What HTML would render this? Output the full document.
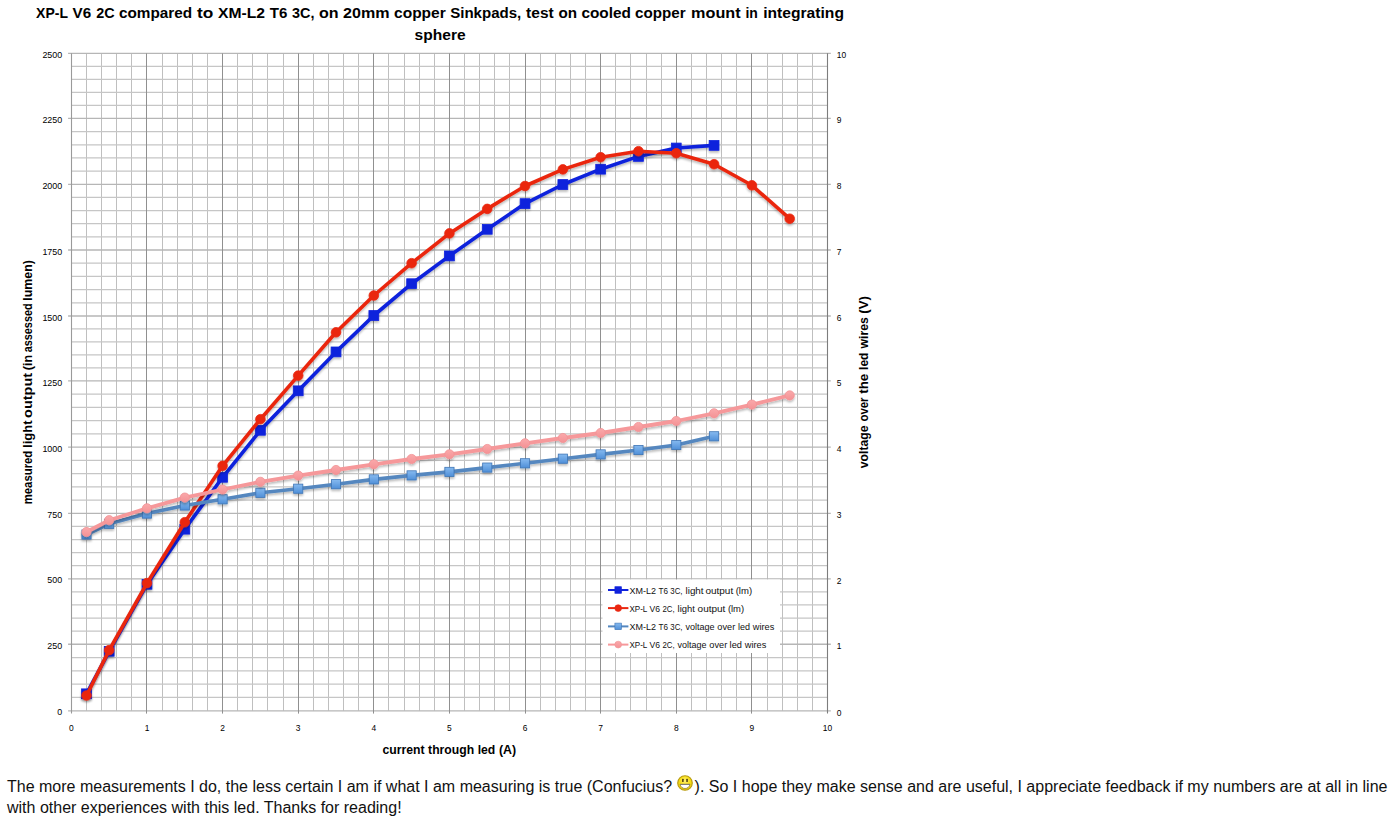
<!DOCTYPE html>
<html lang="en">
<head>
<meta charset="utf-8">
<title>XP-L V6 2C compared to XM-L2 T6 3C</title>
<style>
html,body{margin:0;padding:0;background:#fff;}
body{width:1399px;height:832px;position:relative;overflow:hidden;font-family:'Liberation Sans',sans-serif;}
#chart{position:absolute;left:0;top:0;width:1399px;height:760px;}
#txt{position:absolute;left:7px;top:775px;width:1392px;margin:0;font-size:16px;line-height:21px;color:#111;white-space:nowrap;}
#txt span.l{position:absolute;left:0;height:21px;display:block;}
#l1{top:0;}#l2{top:22px;}
</style>
</head>
<body>
<div id="chart">
<svg width="1399" height="760" viewBox="0 0 1399 760" style="position:absolute;left:0;top:0" font-family="'Liberation Sans', sans-serif">
<defs>
<filter id="sh" x="-5%" y="-5%" width="110%" height="115%"><feGaussianBlur in="SourceAlpha" stdDeviation="1.1"/><feOffset dx="0" dy="1.6" result="b"/><feComponentTransfer><feFuncA type="linear" slope="0.26"/></feComponentTransfer><feMerge><feMergeNode/><feMergeNode in="SourceGraphic"/></feMerge></filter>
<linearGradient id="gs" x1="0" y1="0" x2="0" y2="1"><stop offset="0" stop-color="#86baf0"/><stop offset="1" stop-color="#4f8fd8"/></linearGradient>
<linearGradient id="gp" x1="0" y1="0" x2="0" y2="1"><stop offset="0" stop-color="#faa9ab"/><stop offset="1" stop-color="#f49295"/></linearGradient>
</defs>
<path d="M86.5 53.4 V710.8 M101.5 53.4 V710.8 M116.5 53.4 V710.8 M131.5 53.4 V710.8 M162.5 53.4 V710.8 M177.5 53.4 V710.8 M192.5 53.4 V710.8 M207.5 53.4 V710.8 M237.5 53.4 V710.8 M252.5 53.4 V710.8 M267.5 53.4 V710.8 M283.5 53.4 V710.8 M313.5 53.4 V710.8 M328.5 53.4 V710.8 M343.5 53.4 V710.8 M358.5 53.4 V710.8 M388.5 53.4 V710.8 M404.5 53.4 V710.8 M419.5 53.4 V710.8 M434.5 53.4 V710.8 M464.5 53.4 V710.8 M479.5 53.4 V710.8 M494.5 53.4 V710.8 M509.5 53.4 V710.8 M540.5 53.4 V710.8 M555.5 53.4 V710.8 M570.5 53.4 V710.8 M585.5 53.4 V710.8 M615.5 53.4 V710.8 M630.5 53.4 V710.8 M646.5 53.4 V710.8 M661.5 53.4 V710.8 M691.5 53.4 V710.8 M706.5 53.4 V710.8 M721.5 53.4 V710.8 M736.5 53.4 V710.8 M767.5 53.4 V710.8 M782.5 53.4 V710.8 M797.5 53.4 V710.8 M812.5 53.4 V710.8" stroke="#bfbfbf" stroke-width="1" fill="none"/>
<path d="M71.38 66.4 H827.5 M71.38 79.4 H827.5 M71.38 92.4 H827.5 M71.38 105.4 H827.5 M71.38 131.58 H827.5 M71.38 144.76 H827.5 M71.38 157.94 H827.5 M71.38 171.12 H827.5 M71.38 197.44 H827.5 M71.38 210.58 H827.5 M71.38 223.72 H827.5 M71.38 236.86 H827.5 M71.38 263.2 H827.5 M71.38 276.4 H827.5 M71.38 289.6 H827.5 M71.38 302.8 H827.5 M71.38 328.98 H827.5 M71.38 341.96 H827.5 M71.38 354.94 H827.5 M71.38 367.92 H827.5 M71.38 394.14 H827.5 M71.38 407.38 H827.5 M71.38 420.62 H827.5 M71.38 433.86 H827.5 M71.38 460.34 H827.5 M71.38 473.58 H827.5 M71.38 486.82 H827.5 M71.38 500.06 H827.5 M71.38 526.4 H827.5 M71.38 539.5 H827.5 M71.38 552.6 H827.5 M71.38 565.7 H827.5 M71.38 591.88 H827.5 M71.38 604.96 H827.5 M71.38 618.04 H827.5 M71.38 631.12 H827.5 M71.38 657.52 H827.5 M71.38 670.84 H827.5 M71.38 684.16 H827.5 M71.38 697.48 H827.5" stroke="#c6c6c6" stroke-width="1.25" fill="none"/>
<path d="M68.08 53.4 H830.8 M68.08 118.4 H830.8 M68.08 184.3 H830.8 M68.08 250 H830.8 M68.08 316 H830.8 M68.08 380.9 H830.8 M68.08 447.1 H830.8 M68.08 513.3 H830.8 M68.08 578.8 H830.8 M68.08 644.2 H830.8 M68.08 710.8 H830.8" stroke="#b6b6b6" stroke-width="1.35" fill="none"/>
<path d="M146.5 53.4 V713.6 M222.5 53.4 V713.6 M298.5 53.4 V713.6 M373.5 53.4 V713.6 M449.5 53.4 V713.6 M525.5 53.4 V713.6 M600.5 53.4 V713.6 M676.5 53.4 V713.6 M751.5 53.4 V713.6" stroke="#909090" stroke-width="1" fill="none"/>
<path d="M71.5 53.3 V713.6" stroke="#9a9a9a" stroke-width="1.1" fill="none"/>
<path d="M827.5 53.3 V713.6" stroke="#7d7d7d" stroke-width="1.1" fill="none"/>
<g filter="url(#sh)">
<polyline points="86.5,693.8 109.19,651.3 146.99,584.3 184.8,529.2 222.6,477.3 260.41,430.3 298.22,390.8 336.02,351.9 373.83,315.5 411.63,283.7 449.44,255.9 487.25,229.3 525.05,203.6 562.86,184.5 600.66,169.2 638.47,156.4 676.28,148 714.08,145.4" fill="none" stroke="#0f22dc" stroke-width="3.6" stroke-linejoin="round" stroke-linecap="round"/>
<rect x="81.6" y="688.9" width="9.8" height="9.8" fill="#0f22dc" stroke="#0f22dc" stroke-width="0.8"/>
<rect x="104.29" y="646.4" width="9.8" height="9.8" fill="#0f22dc" stroke="#0f22dc" stroke-width="0.8"/>
<rect x="142.09" y="579.4" width="9.8" height="9.8" fill="#0f22dc" stroke="#0f22dc" stroke-width="0.8"/>
<rect x="179.9" y="524.3" width="9.8" height="9.8" fill="#0f22dc" stroke="#0f22dc" stroke-width="0.8"/>
<rect x="217.7" y="472.4" width="9.8" height="9.8" fill="#0f22dc" stroke="#0f22dc" stroke-width="0.8"/>
<rect x="255.51" y="425.4" width="9.8" height="9.8" fill="#0f22dc" stroke="#0f22dc" stroke-width="0.8"/>
<rect x="293.32" y="385.9" width="9.8" height="9.8" fill="#0f22dc" stroke="#0f22dc" stroke-width="0.8"/>
<rect x="331.12" y="347" width="9.8" height="9.8" fill="#0f22dc" stroke="#0f22dc" stroke-width="0.8"/>
<rect x="368.93" y="310.6" width="9.8" height="9.8" fill="#0f22dc" stroke="#0f22dc" stroke-width="0.8"/>
<rect x="406.73" y="278.8" width="9.8" height="9.8" fill="#0f22dc" stroke="#0f22dc" stroke-width="0.8"/>
<rect x="444.54" y="251" width="9.8" height="9.8" fill="#0f22dc" stroke="#0f22dc" stroke-width="0.8"/>
<rect x="482.35" y="224.4" width="9.8" height="9.8" fill="#0f22dc" stroke="#0f22dc" stroke-width="0.8"/>
<rect x="520.15" y="198.7" width="9.8" height="9.8" fill="#0f22dc" stroke="#0f22dc" stroke-width="0.8"/>
<rect x="557.96" y="179.6" width="9.8" height="9.8" fill="#0f22dc" stroke="#0f22dc" stroke-width="0.8"/>
<rect x="595.76" y="164.3" width="9.8" height="9.8" fill="#0f22dc" stroke="#0f22dc" stroke-width="0.8"/>
<rect x="633.57" y="151.5" width="9.8" height="9.8" fill="#0f22dc" stroke="#0f22dc" stroke-width="0.8"/>
<rect x="671.38" y="143.1" width="9.8" height="9.8" fill="#0f22dc" stroke="#0f22dc" stroke-width="0.8"/>
<rect x="709.18" y="140.5" width="9.8" height="9.8" fill="#0f22dc" stroke="#0f22dc" stroke-width="0.8"/>
</g>
<g filter="url(#sh)">
<polyline points="86.5,695.5 109.19,650.1 146.99,583.1 184.8,522.2 222.6,465.8 260.41,419.2 298.22,375.6 336.02,332.3 373.83,295.5 411.63,263.2 449.44,233.4 487.25,208.9 525.05,186 562.86,169.4 600.66,157.2 638.47,151.2 676.28,153.2 714.08,164.2 751.89,185.3 789.69,218.7" fill="none" stroke="#ea2710" stroke-width="3.6" stroke-linejoin="round" stroke-linecap="round"/>
<circle cx="86.5" cy="695.5" r="4.8" fill="#ea2710" stroke="#ea2710" stroke-width="0.8"/>
<circle cx="109.19" cy="650.1" r="4.8" fill="#ea2710" stroke="#ea2710" stroke-width="0.8"/>
<circle cx="146.99" cy="583.1" r="4.8" fill="#ea2710" stroke="#ea2710" stroke-width="0.8"/>
<circle cx="184.8" cy="522.2" r="4.8" fill="#ea2710" stroke="#ea2710" stroke-width="0.8"/>
<circle cx="222.6" cy="465.8" r="4.8" fill="#ea2710" stroke="#ea2710" stroke-width="0.8"/>
<circle cx="260.41" cy="419.2" r="4.8" fill="#ea2710" stroke="#ea2710" stroke-width="0.8"/>
<circle cx="298.22" cy="375.6" r="4.8" fill="#ea2710" stroke="#ea2710" stroke-width="0.8"/>
<circle cx="336.02" cy="332.3" r="4.8" fill="#ea2710" stroke="#ea2710" stroke-width="0.8"/>
<circle cx="373.83" cy="295.5" r="4.8" fill="#ea2710" stroke="#ea2710" stroke-width="0.8"/>
<circle cx="411.63" cy="263.2" r="4.8" fill="#ea2710" stroke="#ea2710" stroke-width="0.8"/>
<circle cx="449.44" cy="233.4" r="4.8" fill="#ea2710" stroke="#ea2710" stroke-width="0.8"/>
<circle cx="487.25" cy="208.9" r="4.8" fill="#ea2710" stroke="#ea2710" stroke-width="0.8"/>
<circle cx="525.05" cy="186" r="4.8" fill="#ea2710" stroke="#ea2710" stroke-width="0.8"/>
<circle cx="562.86" cy="169.4" r="4.8" fill="#ea2710" stroke="#ea2710" stroke-width="0.8"/>
<circle cx="600.66" cy="157.2" r="4.8" fill="#ea2710" stroke="#ea2710" stroke-width="0.8"/>
<circle cx="638.47" cy="151.2" r="4.8" fill="#ea2710" stroke="#ea2710" stroke-width="0.8"/>
<circle cx="676.28" cy="153.2" r="4.8" fill="#ea2710" stroke="#ea2710" stroke-width="0.8"/>
<circle cx="714.08" cy="164.2" r="4.8" fill="#ea2710" stroke="#ea2710" stroke-width="0.8"/>
<circle cx="751.89" cy="185.3" r="4.8" fill="#ea2710" stroke="#ea2710" stroke-width="0.8"/>
<circle cx="789.69" cy="218.7" r="4.8" fill="#ea2710" stroke="#ea2710" stroke-width="0.8"/>
</g>
<g filter="url(#sh)">
<polyline points="86.5,534.5 109.19,523.8 146.99,513.6 184.8,505.5 222.6,499.3 260.41,492.8 298.22,488.7 336.02,484.2 373.83,479.4 411.63,475.4 449.44,471.9 487.25,467.6 525.05,463.3 562.86,458.7 600.66,454.4 638.47,450 676.28,445 714.08,436.3" fill="none" stroke="#5487bf" stroke-width="3.6" stroke-linejoin="round" stroke-linecap="round"/>
<rect x="81.9" y="529.9" width="9.2" height="9.2" fill="url(#gs)" stroke="#3f75b5" stroke-width="0.8"/>
<rect x="104.59" y="519.2" width="9.2" height="9.2" fill="url(#gs)" stroke="#3f75b5" stroke-width="0.8"/>
<rect x="142.39" y="509" width="9.2" height="9.2" fill="url(#gs)" stroke="#3f75b5" stroke-width="0.8"/>
<rect x="180.2" y="500.9" width="9.2" height="9.2" fill="url(#gs)" stroke="#3f75b5" stroke-width="0.8"/>
<rect x="218" y="494.7" width="9.2" height="9.2" fill="url(#gs)" stroke="#3f75b5" stroke-width="0.8"/>
<rect x="255.81" y="488.2" width="9.2" height="9.2" fill="url(#gs)" stroke="#3f75b5" stroke-width="0.8"/>
<rect x="293.62" y="484.1" width="9.2" height="9.2" fill="url(#gs)" stroke="#3f75b5" stroke-width="0.8"/>
<rect x="331.42" y="479.6" width="9.2" height="9.2" fill="url(#gs)" stroke="#3f75b5" stroke-width="0.8"/>
<rect x="369.23" y="474.8" width="9.2" height="9.2" fill="url(#gs)" stroke="#3f75b5" stroke-width="0.8"/>
<rect x="407.03" y="470.8" width="9.2" height="9.2" fill="url(#gs)" stroke="#3f75b5" stroke-width="0.8"/>
<rect x="444.84" y="467.3" width="9.2" height="9.2" fill="url(#gs)" stroke="#3f75b5" stroke-width="0.8"/>
<rect x="482.65" y="463" width="9.2" height="9.2" fill="url(#gs)" stroke="#3f75b5" stroke-width="0.8"/>
<rect x="520.45" y="458.7" width="9.2" height="9.2" fill="url(#gs)" stroke="#3f75b5" stroke-width="0.8"/>
<rect x="558.26" y="454.1" width="9.2" height="9.2" fill="url(#gs)" stroke="#3f75b5" stroke-width="0.8"/>
<rect x="596.06" y="449.8" width="9.2" height="9.2" fill="url(#gs)" stroke="#3f75b5" stroke-width="0.8"/>
<rect x="633.87" y="445.4" width="9.2" height="9.2" fill="url(#gs)" stroke="#3f75b5" stroke-width="0.8"/>
<rect x="671.68" y="440.4" width="9.2" height="9.2" fill="url(#gs)" stroke="#3f75b5" stroke-width="0.8"/>
<rect x="709.48" y="431.7" width="9.2" height="9.2" fill="url(#gs)" stroke="#3f75b5" stroke-width="0.8"/>
</g>
<g filter="url(#sh)">
<polyline points="86.5,532 109.19,520.2 146.99,508.3 184.8,497.6 222.6,489.5 260.41,481.8 298.22,475.6 336.02,470 373.83,464.3 411.63,459 449.44,454.3 487.25,449 525.05,443.3 562.86,438 600.66,433 638.47,427 676.28,421 714.08,413.3 751.89,404.6 789.69,395.4" fill="none" stroke="#f6989a" stroke-width="3.8" stroke-linejoin="round" stroke-linecap="round"/>
<circle cx="86.5" cy="532" r="4.6" fill="url(#gp)" stroke="#f29396" stroke-width="0.8"/>
<circle cx="109.19" cy="520.2" r="4.6" fill="url(#gp)" stroke="#f29396" stroke-width="0.8"/>
<circle cx="146.99" cy="508.3" r="4.6" fill="url(#gp)" stroke="#f29396" stroke-width="0.8"/>
<circle cx="184.8" cy="497.6" r="4.6" fill="url(#gp)" stroke="#f29396" stroke-width="0.8"/>
<circle cx="222.6" cy="489.5" r="4.6" fill="url(#gp)" stroke="#f29396" stroke-width="0.8"/>
<circle cx="260.41" cy="481.8" r="4.6" fill="url(#gp)" stroke="#f29396" stroke-width="0.8"/>
<circle cx="298.22" cy="475.6" r="4.6" fill="url(#gp)" stroke="#f29396" stroke-width="0.8"/>
<circle cx="336.02" cy="470" r="4.6" fill="url(#gp)" stroke="#f29396" stroke-width="0.8"/>
<circle cx="373.83" cy="464.3" r="4.6" fill="url(#gp)" stroke="#f29396" stroke-width="0.8"/>
<circle cx="411.63" cy="459" r="4.6" fill="url(#gp)" stroke="#f29396" stroke-width="0.8"/>
<circle cx="449.44" cy="454.3" r="4.6" fill="url(#gp)" stroke="#f29396" stroke-width="0.8"/>
<circle cx="487.25" cy="449" r="4.6" fill="url(#gp)" stroke="#f29396" stroke-width="0.8"/>
<circle cx="525.05" cy="443.3" r="4.6" fill="url(#gp)" stroke="#f29396" stroke-width="0.8"/>
<circle cx="562.86" cy="438" r="4.6" fill="url(#gp)" stroke="#f29396" stroke-width="0.8"/>
<circle cx="600.66" cy="433" r="4.6" fill="url(#gp)" stroke="#f29396" stroke-width="0.8"/>
<circle cx="638.47" cy="427" r="4.6" fill="url(#gp)" stroke="#f29396" stroke-width="0.8"/>
<circle cx="676.28" cy="421" r="4.6" fill="url(#gp)" stroke="#f29396" stroke-width="0.8"/>
<circle cx="714.08" cy="413.3" r="4.6" fill="url(#gp)" stroke="#f29396" stroke-width="0.8"/>
<circle cx="751.89" cy="404.6" r="4.6" fill="url(#gp)" stroke="#f29396" stroke-width="0.8"/>
<circle cx="789.69" cy="395.4" r="4.6" fill="url(#gp)" stroke="#f29396" stroke-width="0.8"/>
</g>
<rect x="602.5" y="579.5" width="177.5" height="73.5" fill="#fff"/>
<path d="M608 590 H628.4" stroke="#0f22dc" stroke-width="2" fill="none"/>
<rect x="614.9" y="586.7" width="6.6" height="6.6" fill="#0f22dc" stroke="#0f22dc" stroke-width="0.6"/>
<text y="594" font-size="8.6" fill="#111"><tspan x="629.4" textLength="26.5" lengthAdjust="spacingAndGlyphs">XM-L2</tspan> <tspan x="658.5" textLength="9.5" lengthAdjust="spacingAndGlyphs">T6</tspan> <tspan x="670.3" textLength="12.2" lengthAdjust="spacingAndGlyphs">3C,</tspan> <tspan x="685.5" textLength="18.1" lengthAdjust="spacingAndGlyphs">light</tspan> <tspan x="705.4" textLength="27.8" lengthAdjust="spacingAndGlyphs">output</tspan> <tspan x="735.7" textLength="16.4" lengthAdjust="spacingAndGlyphs">(lm)</tspan> </text>
<path d="M608 608.1 H628.4" stroke="#ea2710" stroke-width="2" fill="none"/>
<circle cx="618.2" cy="608.1" r="3.4" fill="#ea2710" stroke="#ea2710" stroke-width="0.6"/>
<text y="612.2" font-size="8.6" fill="#111"><tspan x="629.4" textLength="17.6" lengthAdjust="spacingAndGlyphs">XP-L</tspan> <tspan x="649.5" textLength="10.5" lengthAdjust="spacingAndGlyphs">V6</tspan> <tspan x="662.4" textLength="12.2" lengthAdjust="spacingAndGlyphs">2C,</tspan> <tspan x="677.6" textLength="17.3" lengthAdjust="spacingAndGlyphs">light</tspan> <tspan x="697.6" textLength="27.8" lengthAdjust="spacingAndGlyphs">output</tspan> <tspan x="727.9" textLength="16.2" lengthAdjust="spacingAndGlyphs">(lm)</tspan> </text>
<path d="M608 626.4 H628.4" stroke="#5487bf" stroke-width="2" fill="none"/>
<rect x="614.9" y="623.1" width="6.6" height="6.6" fill="url(#gs)" stroke="#3f75b5" stroke-width="0.6"/>
<text y="630.1" font-size="8.6" fill="#111"><tspan x="629.4" textLength="26.5" lengthAdjust="spacingAndGlyphs">XM-L2</tspan> <tspan x="658.5" textLength="9.5" lengthAdjust="spacingAndGlyphs">T6</tspan> <tspan x="670.3" textLength="12.2" lengthAdjust="spacingAndGlyphs">3C,</tspan> <tspan x="685.5" textLength="29.1" lengthAdjust="spacingAndGlyphs">voltage</tspan> <tspan x="717.3" textLength="17.9" lengthAdjust="spacingAndGlyphs">over</tspan> <tspan x="737.9" textLength="12" lengthAdjust="spacingAndGlyphs">led</tspan> <tspan x="752.8" textLength="21.5" lengthAdjust="spacingAndGlyphs">wires</tspan> </text>
<path d="M608 644.6 H628.4" stroke="#f6989a" stroke-width="2" fill="none"/>
<circle cx="618.2" cy="644.6" r="3.4" fill="url(#gp)" stroke="#f29396" stroke-width="0.6"/>
<text y="648.1" font-size="8.6" fill="#111"><tspan x="629.4" textLength="17.6" lengthAdjust="spacingAndGlyphs">XP-L</tspan> <tspan x="649.5" textLength="10.5" lengthAdjust="spacingAndGlyphs">V6</tspan> <tspan x="662.4" textLength="12.2" lengthAdjust="spacingAndGlyphs">2C,</tspan> <tspan x="677.6" textLength="29" lengthAdjust="spacingAndGlyphs">voltage</tspan> <tspan x="709.3" textLength="17.9" lengthAdjust="spacingAndGlyphs">over</tspan> <tspan x="729.6" textLength="12.3" lengthAdjust="spacingAndGlyphs">led</tspan> <tspan x="744.8" textLength="21.6" lengthAdjust="spacingAndGlyphs">wires</tspan> </text>
<text x="57.25" y="715.4" font-size="8.7" fill="#000" textLength="4.95" lengthAdjust="spacingAndGlyphs">0</text>
<text x="836.7" y="715.7" font-size="8.7" fill="#000" textLength="4.7" lengthAdjust="spacingAndGlyphs">0</text>
<text x="47.35" y="648.8" font-size="8.7" fill="#000" textLength="14.85" lengthAdjust="spacingAndGlyphs">250</text>
<text x="836.7" y="649.1" font-size="8.7" fill="#000" textLength="4.7" lengthAdjust="spacingAndGlyphs">1</text>
<text x="47.35" y="583.4" font-size="8.7" fill="#000" textLength="14.85" lengthAdjust="spacingAndGlyphs">500</text>
<text x="836.7" y="583.7" font-size="8.7" fill="#000" textLength="4.7" lengthAdjust="spacingAndGlyphs">2</text>
<text x="47.35" y="517.9" font-size="8.7" fill="#000" textLength="14.85" lengthAdjust="spacingAndGlyphs">750</text>
<text x="836.7" y="518.2" font-size="8.7" fill="#000" textLength="4.7" lengthAdjust="spacingAndGlyphs">3</text>
<text x="42.4" y="451.7" font-size="8.7" fill="#000" textLength="19.8" lengthAdjust="spacingAndGlyphs">1000</text>
<text x="836.7" y="452" font-size="8.7" fill="#000" textLength="4.7" lengthAdjust="spacingAndGlyphs">4</text>
<text x="42.4" y="385.5" font-size="8.7" fill="#000" textLength="19.8" lengthAdjust="spacingAndGlyphs">1250</text>
<text x="836.7" y="385.8" font-size="8.7" fill="#000" textLength="4.7" lengthAdjust="spacingAndGlyphs">5</text>
<text x="42.4" y="320.6" font-size="8.7" fill="#000" textLength="19.8" lengthAdjust="spacingAndGlyphs">1500</text>
<text x="836.7" y="320.9" font-size="8.7" fill="#000" textLength="4.7" lengthAdjust="spacingAndGlyphs">6</text>
<text x="42.4" y="254.6" font-size="8.7" fill="#000" textLength="19.8" lengthAdjust="spacingAndGlyphs">1750</text>
<text x="836.7" y="254.9" font-size="8.7" fill="#000" textLength="4.7" lengthAdjust="spacingAndGlyphs">7</text>
<text x="42.4" y="188.9" font-size="8.7" fill="#000" textLength="19.8" lengthAdjust="spacingAndGlyphs">2000</text>
<text x="836.7" y="189.2" font-size="8.7" fill="#000" textLength="4.7" lengthAdjust="spacingAndGlyphs">8</text>
<text x="42.4" y="123" font-size="8.7" fill="#000" textLength="19.8" lengthAdjust="spacingAndGlyphs">2250</text>
<text x="836.7" y="123.3" font-size="8.7" fill="#000" textLength="4.7" lengthAdjust="spacingAndGlyphs">9</text>
<text x="42.4" y="58" font-size="8.7" fill="#000" textLength="19.8" lengthAdjust="spacingAndGlyphs">2500</text>
<text x="836.7" y="58.3" font-size="8.7" fill="#000" textLength="9.4" lengthAdjust="spacingAndGlyphs">10</text>
<text x="69.03" y="731.1" font-size="8.7" fill="#000" textLength="4.7" lengthAdjust="spacingAndGlyphs">0</text>
<text x="144.64" y="731.1" font-size="8.7" fill="#000" textLength="4.7" lengthAdjust="spacingAndGlyphs">1</text>
<text x="220.25" y="731.1" font-size="8.7" fill="#000" textLength="4.7" lengthAdjust="spacingAndGlyphs">2</text>
<text x="295.87" y="731.1" font-size="8.7" fill="#000" textLength="4.7" lengthAdjust="spacingAndGlyphs">3</text>
<text x="371.48" y="731.1" font-size="8.7" fill="#000" textLength="4.7" lengthAdjust="spacingAndGlyphs">4</text>
<text x="447.09" y="731.1" font-size="8.7" fill="#000" textLength="4.7" lengthAdjust="spacingAndGlyphs">5</text>
<text x="522.7" y="731.1" font-size="8.7" fill="#000" textLength="4.7" lengthAdjust="spacingAndGlyphs">6</text>
<text x="598.31" y="731.1" font-size="8.7" fill="#000" textLength="4.7" lengthAdjust="spacingAndGlyphs">7</text>
<text x="673.93" y="731.1" font-size="8.7" fill="#000" textLength="4.7" lengthAdjust="spacingAndGlyphs">8</text>
<text x="749.54" y="731.1" font-size="8.7" fill="#000" textLength="4.7" lengthAdjust="spacingAndGlyphs">9</text>
<text x="822.8" y="731.1" font-size="8.7" fill="#000" textLength="9.4" lengthAdjust="spacingAndGlyphs">10</text>
<text y="17.7" font-size="15.4" font-weight="bold" fill="#000"><tspan x="36.1" textLength="31.6" lengthAdjust="spacingAndGlyphs">XP-L</tspan> <tspan x="72.5" textLength="18.6" lengthAdjust="spacingAndGlyphs">V6</tspan> <tspan x="96.2" textLength="18.4" lengthAdjust="spacingAndGlyphs">2C</tspan> <tspan x="119" textLength="73.2" lengthAdjust="spacingAndGlyphs">compared</tspan> <tspan x="197" textLength="16.3" lengthAdjust="spacingAndGlyphs">to</tspan> <tspan x="218.1" textLength="47" lengthAdjust="spacingAndGlyphs">XM-L2</tspan> <tspan x="269.7" textLength="17.6" lengthAdjust="spacingAndGlyphs">T6</tspan> <tspan x="292.1" textLength="22.4" lengthAdjust="spacingAndGlyphs">3C,</tspan> <tspan x="318.9" textLength="19.6" lengthAdjust="spacingAndGlyphs">on</tspan> <tspan x="343.1" textLength="46.5" lengthAdjust="spacingAndGlyphs">20mm</tspan> <tspan x="394" textLength="51.8" lengthAdjust="spacingAndGlyphs">copper</tspan> <tspan x="450.2" textLength="71.1" lengthAdjust="spacingAndGlyphs">Sinkpads,</tspan> <tspan x="526.1" textLength="27.6" lengthAdjust="spacingAndGlyphs">test</tspan> <tspan x="558.5" textLength="18.6" lengthAdjust="spacingAndGlyphs">on</tspan> <tspan x="581.4" textLength="49.5" lengthAdjust="spacingAndGlyphs">cooled</tspan> <tspan x="635.1" textLength="50.6" lengthAdjust="spacingAndGlyphs">copper</tspan> <tspan x="691.1" textLength="49.5" lengthAdjust="spacingAndGlyphs">mount</tspan> <tspan x="745.4" textLength="12.4" lengthAdjust="spacingAndGlyphs">in</tspan> <tspan x="763.2" textLength="80.8" lengthAdjust="spacingAndGlyphs">integrating</tspan> </text>
<text x="414.6" y="39.6" font-size="15.4" font-weight="bold" fill="#000" textLength="51" lengthAdjust="spacingAndGlyphs">sphere</text>
<text y="754.4" font-size="12" font-weight="bold" fill="#000"><tspan x="382.4" textLength="42.1" lengthAdjust="spacingAndGlyphs">current</tspan> <tspan x="428.1" textLength="46" lengthAdjust="spacingAndGlyphs">through</tspan> <tspan x="477.7" textLength="17.6" lengthAdjust="spacingAndGlyphs">led</tspan> <tspan x="498.9" textLength="17.2" lengthAdjust="spacingAndGlyphs">(A)</tspan> </text>
<text transform="translate(31.5 503.9) rotate(-90)" y="0" font-size="12.6" font-weight="bold" fill="#000"><tspan x="-0.4" textLength="53.6" lengthAdjust="spacingAndGlyphs">measured</tspan> <tspan x="56" textLength="27.4" lengthAdjust="spacingAndGlyphs">light</tspan> <tspan x="86" textLength="45" lengthAdjust="spacingAndGlyphs">output</tspan> <tspan x="133.7" textLength="15.3" lengthAdjust="spacingAndGlyphs">(in</tspan> <tspan x="151.6" textLength="48.9" lengthAdjust="spacingAndGlyphs">assessed</tspan> <tspan x="203.2" textLength="40.6" lengthAdjust="spacingAndGlyphs">lumen)</tspan> </text>
<text transform="translate(868.2 467.8) rotate(-90)" y="0" font-size="12.6" font-weight="bold" fill="#000"><tspan x="-0.4" textLength="42.8" lengthAdjust="spacingAndGlyphs">voltage</tspan> <tspan x="46.2" textLength="24.2" lengthAdjust="spacingAndGlyphs">over</tspan> <tspan x="74" textLength="20.1" lengthAdjust="spacingAndGlyphs">the</tspan> <tspan x="97.9" textLength="17.3" lengthAdjust="spacingAndGlyphs">led</tspan> <tspan x="119.4" textLength="31.3" lengthAdjust="spacingAndGlyphs">wires</tspan> <tspan x="154.1" textLength="17.6" lengthAdjust="spacingAndGlyphs">(V)</tspan> </text>
</svg>
</div>
<p id="txt"><span class="l" id="l1">The more measurements I do, the less certain I am if what I am measuring is true (Confucius? <svg width="16" height="16" viewBox="0 0 16 16" style="vertical-align:0.5px;margin:0 2px 0 0"><defs><radialGradient id="sg" cx="0.5" cy="0.35" r="0.7"><stop offset="0" stop-color="#fff176"/><stop offset="0.5" stop-color="#f8df16"/><stop offset="1" stop-color="#d9b90e"/></radialGradient></defs><circle cx="8" cy="8" r="7.3" fill="url(#sg)" stroke="#b99c12" stroke-width="1.1"/><rect x="5.1" y="3.7" width="1.5" height="3.2" rx="0.5" fill="#4a3a10"/><rect x="9.3" y="3.7" width="1.5" height="3.2" rx="0.5" fill="#4a3a10"/><path d="M3 9.4 H13 C12.2 12.1 10.2 13.5 8 13.5 C5.8 13.5 3.8 12.1 3 9.4 Z" fill="#fff" stroke="#8a7a30" stroke-width="0.7"/><path d="M3 9.4 H13" stroke="#777" stroke-width="0.9"/></svg>). So I hope they make sense and are useful, I appreciate feedback if my numbers are at all in line</span><span class="l" id="l2">with other experiences with this led. Thanks for reading!</span></p>
</body>
</html>
